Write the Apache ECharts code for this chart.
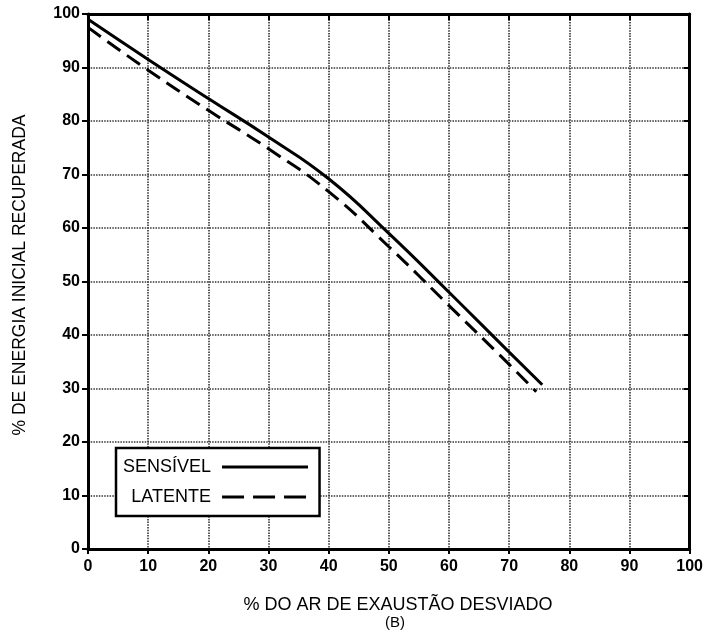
<!DOCTYPE html>
<html>
<head>
<meta charset="utf-8">
<script src="https://cdn.jsdelivr.net/npm/echarts@6/dist/echarts.min.js"></script>
<style>html,body{margin:0;padding:0;background:#fff}#c{width:706px;height:640px}</style>
</head>
<body>
<div id="c"></div>
<script>
const xTicks = [0,10,20,30,40,50,60,70,80,90,100];
const yTicks = [0,10,20,30,40,50,60,70,80,90,100];
const sensivelX = [0, 10, 20, 30, 40, 50, 60, 70, 75.5];
const sensivelY = [99, 91.5, 84.2, 77, 69.2, 59, 48, 36.8, 30.7];
const latenteX = [0, 10, 20, 30, 40, 50, 60, 70, 74.5];
const latenteY = [97.5, 89.5, 82, 74.8, 66.8, 56.5, 45.5, 34.5, 29.4];
const seriesNames = ['SENSÍVEL', 'LATENTE'];
const xTitle = '% DO AR DE EXAUSTÃO DESVIADO';
const xSub = '(B)';
const yTitle = '% DE ENERGIA INICIAL RECUPERADA';

const FONT = '"Liberation Sans", Arial, sans-serif';
const chart = echarts.init(document.getElementById('c'), null, {renderer: 'canvas'});
const gridLine = {show: true, lineStyle: {color: '#333', width: 1.6, type: [1.5, 1.2]}};
const axisLine = {show: true, onZero: false, lineStyle: {color: '#000', width: 3}};
chart.setOption({
  animation: false,
  backgroundColor: '#fff',
  grid: {left: 88, right: 16, top: 14, bottom: 91, containLabel: false},
  xAxis: [{
    type: 'value', min: 0, max: 100, interval: 10,
    axisLine: axisLine,
    axisTick: {show: true, length: 5, lineStyle: {color: '#000', width: 2}},
    axisLabel: {color: '#000', fontFamily: FONT, fontSize: 16, fontWeight: 'bold', margin: 10,
      formatter: v => xTicks.includes(v) ? String(v) : ''},
    splitLine: gridLine
  }, {
    type: 'value', position: 'top', min: 0, max: 100, interval: 10,
    axisLine: axisLine,
    axisTick: {show: true, inside: true, length: 6, lineStyle: {color: '#000', width: 2}},
    axisLabel: {show: false}, splitLine: {show: false}
  }],
  yAxis: [{
    type: 'value', min: 0, max: 100, interval: 10,
    axisLine: axisLine,
    axisTick: {show: true, length: 6, lineStyle: {color: '#000', width: 2}},
    axisLabel: {color: '#000', fontFamily: FONT, fontSize: 16, fontWeight: 'bold', margin: 8,
      formatter: v => yTicks.includes(v) ? String(v) : ''},
    splitLine: gridLine
  }, {
    type: 'value', position: 'right', min: 0, max: 100, interval: 10,
    axisLine: axisLine,
    axisTick: {show: true, inside: true, length: 6, lineStyle: {color: '#000', width: 2}},
    axisLabel: {show: false}, splitLine: {show: false}
  }],
  legend: {
    orient: 'vertical', left: 116, top: 448, align: 'right',
    backgroundColor: '#fff', borderColor: '#000', borderWidth: 2.5, borderRadius: 0,
    padding: [10, 10, 10, 7], itemGap: 12, itemWidth: 86, itemHeight: 14,
    itemStyle: {opacity: 0},
    textStyle: {color: '#000', fontFamily: FONT, fontSize: 18, padding: [0, 6, 0, 0]},
    data: [
      {name: seriesNames[0], lineStyle: {width: 3, color: '#000'}},
      {name: seriesNames[1], lineStyle: {width: 3, color: '#000', type: [22, 9]}}
    ]
  },
  graphic: [
    {type: 'text', x: 398, y: 605, style: {text: xTitle, fill: '#000', font: '18px ' + FONT, textAlign: 'center', textVerticalAlign: 'middle'}},
    {type: 'text', x: 395, y: 623, style: {text: xSub, fill: '#000', font: '15px ' + FONT, textAlign: 'center', textVerticalAlign: 'middle'}},
    {type: 'text', rotation: Math.PI / 2, x: 20, y: 275,
      style: {text: yTitle, fill: '#000', font: '17.5px ' + FONT, textAlign: 'center', textVerticalAlign: 'middle'}}
  ],
  series: [{
    name: seriesNames[0], type: 'line', smooth: true, symbol: 'none', color: '#000',
    lineStyle: {color: '#000', width: 3, type: 'solid'},
    data: sensivelX.map((x, i) => [x, sensivelY[i]])
  }, {
    name: seriesNames[1], type: 'line', smooth: true, symbol: 'none', color: '#000',
    lineStyle: {color: '#000', width: 3, type: [16, 8]},
    data: latenteX.map((x, i) => [x, latenteY[i]])
  }]
});
</script>
</body>
</html>
